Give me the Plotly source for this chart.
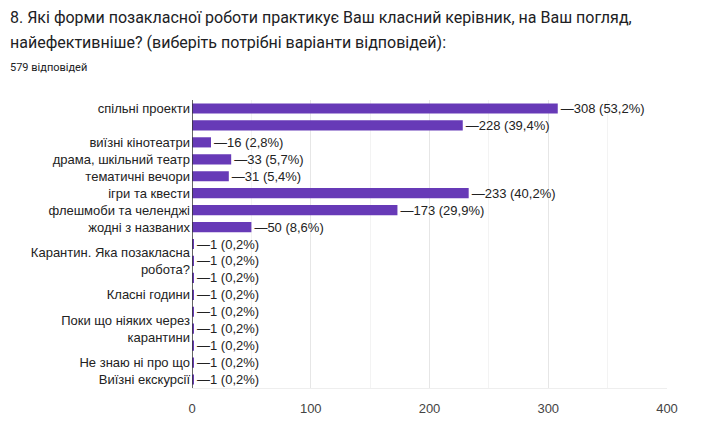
import plotly.graph_objects as go

categories = [
    "спільні проекти",
    "спільні заходи з батьками",
    "виїзні кінотеатри",
    "драма, шкільний театр",
    "тематичні вечори",
    "ігри та квести",
    "флешмоби та челенджі",
    "жодні з названих",
    "Інше 1",
    "Карантин. Яка позакласна робота?",
    "Інше 2",
    "Класні години",
    "Інше 3",
    "Поки що ніяких через карантини",
    "Інше 4",
    "Не знаю ні про що",
    "Виїзні екскурсії",
]
tick_labels = [
    "спільні проекти",
    "",
    "виїзні кінотеатри",
    "драма, шкільний театр",
    "тематичні вечори",
    "ігри та квести",
    "флешмоби та челенджі",
    "жодні з названих",
    "",
    "Карантин. Яка позакласна<br>робота?",
    "",
    "Класні години",
    "",
    "Поки що ніяких через<br>карантини",
    "",
    "Не знаю ні про що",
    "Виїзні екскурсії",
]
counts = [308, 228, 16, 33, 31, 233, 173, 50, 1, 1, 1, 1, 1, 1, 1, 1, 1]
percents = ["53,2", "39,4", "2,8", "5,7", "5,4", "40,2", "29,9", "8,6",
            "0,2", "0,2", "0,2", "0,2", "0,2", "0,2", "0,2", "0,2", "0,2"]
x_ticks = [0, 100, 200, 300, 400]

positions = list(range(len(categories)))
labels = [f"—{c} ({p}%)" for c, p in zip(counts, percents)]

FONT = "Liberation Sans, Arial"

fig = go.Figure(go.Bar(
    x=counts,
    y=positions,
    orientation="h",
    marker=dict(color="#673ab7", line=dict(width=0)),
    width=0.6,
    text=labels,
    textposition="outside",
    constraintext="none",
    textfont=dict(family=FONT, size=13, color="#222222"),
    cliponaxis=False,
    hovertext=categories,
))

H = 425
top, bottom = 100, 37
ph = H - top - bottom
left, right = 192, 36
pw = 703 - left - right

def py(pix):
    return (H - bottom - pix) / ph

def px(pix):
    return (pix - left) / pw

fig.update_layout(
    width=703, height=425,
    margin=dict(l=left, r=right, t=top, b=bottom, pad=0, autoexpand=False),
    paper_bgcolor="white", plot_bgcolor="white",
    showlegend=False,
    font=dict(family=FONT, size=13, color="#222222"),
    xaxis=dict(
        range=[0, 400],
        tickvals=x_ticks,
        ticktext=[str(v) for v in x_ticks],
        showgrid=True, gridcolor="#e6e6e6", gridwidth=1,
        minor=dict(dtick=50, showgrid=True, gridcolor="#f3f3f3", gridwidth=1),
        zeroline=False,
        showline=True, linecolor="#eeeeee", linewidth=1,
        ticks="",
        automargin=False,
        tickfont=dict(family=FONT, size=13, color="#444444"),
        ticklabelstandoff=8,
        fixedrange=True,
    ),
    yaxis=dict(
        range=[len(categories) - 0.5, -0.5],
        tickvals=positions,
        ticktext=tick_labels,
        showgrid=False,
        zeroline=False,
        showline=False,
        ticks="",
        automargin=False,
        tickfont=dict(family=FONT, size=13, color="#222222"),
        ticklabelstandoff=1,
        fixedrange=True,
    ),
    annotations=[
        dict(text="8. Які форми позакласної роботи практикує Ваш класний керівник, на Ваш погляд,",
             xref="paper", yref="paper", x=px(8), y=py(18), xanchor="left", yanchor="middle",
             showarrow=False, font=dict(family="Roboto", size=16, color="#202124")),
        dict(text="найефективніше? (виберіть потрібні варіанти відповідей):",
             xref="paper", yref="paper", x=px(8), y=py(42), xanchor="left", yanchor="middle",
             showarrow=False, font=dict(family="Roboto", size=16, color="#202124")),
        dict(text="579 відповідей",
             xref="paper", yref="paper", x=px(8), y=py(68), xanchor="left", yanchor="middle",
             showarrow=False, font=dict(family="Roboto", size=11, color="#202124")),
    ],
    shapes=[
        dict(type="line", xref="x", yref="paper", x0=0, x1=0, y0=0, y1=1,
             line=dict(color="#333333", width=1.5)),
    ],
)

fig.write_html(
    "out.html",
    config={"displayModeBar": False},
    post_script="document.body.style.margin='0';document.body.style.overflow='hidden';",
)
